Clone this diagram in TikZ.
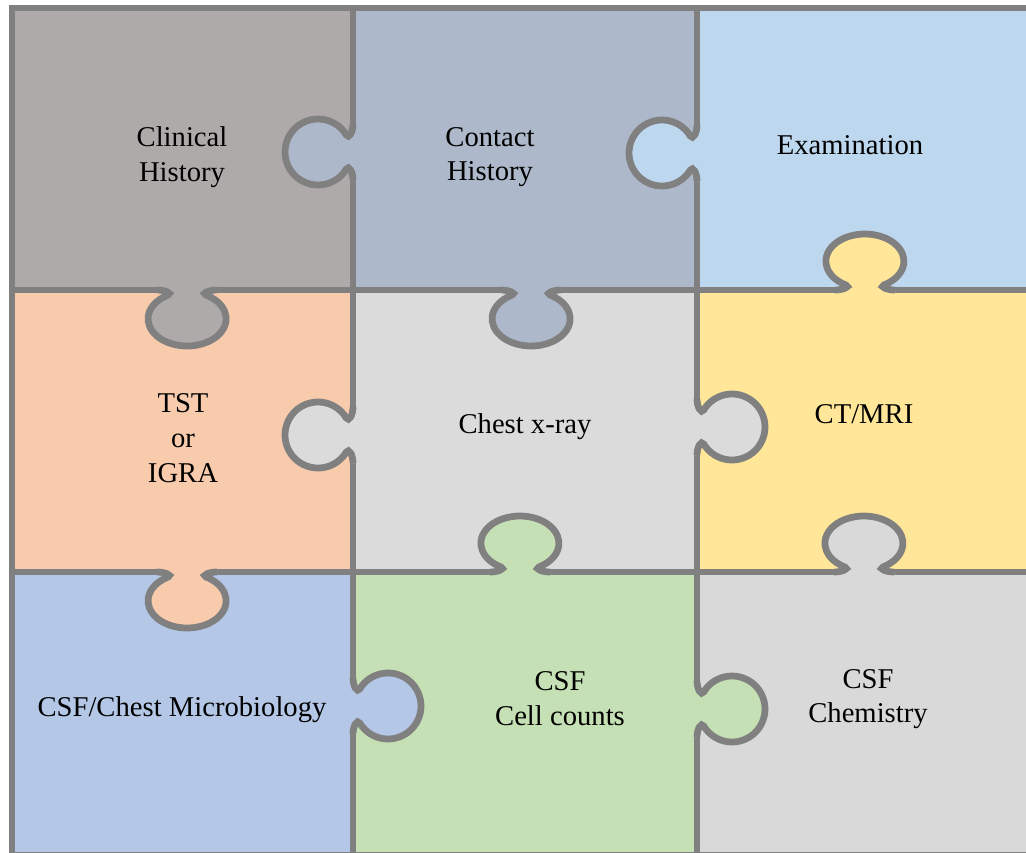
\documentclass[tikz,border=0pt]{standalone}
\usepackage{fontspec}
\setmainfont{Liberation Serif}

\definecolor{rim}{HTML}{808080}
\definecolor{clinicalfill}{HTML}{AEAAAA}
\definecolor{contactfill}{HTML}{ADB9CA}
\definecolor{examfill}{HTML}{BDD7EE}
\definecolor{tstfill}{HTML}{F8CBAD}
\definecolor{chestfill}{HTML}{DBDBDB}
\definecolor{ctfill}{HTML}{FFE699}
\definecolor{microfill}{HTML}{B4C7E7}
\definecolor{cellsfill}{HTML}{C5E0B4}
\definecolor{chemfill}{HTML}{D9D9D9}

\tikzset{
  piece/.style={draw=rim, line width=1.35mm},
  rimline/.style={draw=rim, line width=1.35mm, line cap=butt},
  piecetext/.style={align=center, font=\fontsize{16.3}{19.8}\selectfont}
}

% round knob on a side edge: position, direction, colour
\newcommand{\sideknob}[3]{%
  \begin{scope}[shift={#1}, rotate=#2]
    \fill[#3] (-4,-28) -- (0,-28) .. controls (0,-20) and (4.1,-12.7) .. (6.7,-17)
      arc[start angle=-149, end angle=149, radius=33]
      .. controls (4.1,12.7) and (0,20) .. (0,28) -- (-4,28) -- cycle;
    \draw[rimline] (0,-28) .. controls (0,-20) and (4.1,-12.7) .. (6.7,-17)
      arc[start angle=-149, end angle=149, radius=33]
      .. controls (4.1,12.7) and (0,20) .. (0,28);
  \end{scope}}

% flatter knob on a top or bottom edge
\newcommand{\wideknob}[3]{%
  \begin{scope}[shift={#1}, rotate=#2]
    \fill[#3] (-4,-30) -- (0,-30) .. controls (0,-22) and (3.2,-14.3) .. (5,-19)
      arc[start angle=-151, end angle=151, x radius=27.2, y radius=39]
      .. controls (3.2,14.3) and (0,22) .. (0,30) -- (-4,30) -- cycle;
    \draw[rimline] (0,-30) .. controls (0,-22) and (3.2,-14.3) .. (5,-19)
      arc[start angle=-151, end angle=151, x radius=27.2, y radius=39]
      .. controls (3.2,14.3) and (0,22) .. (0,30);
  \end{scope}}

\begin{document}
\begin{tikzpicture}[x=0.2mm,y=-0.2mm]
\clip (0,0) rectangle (1026,852);
\fill[white] (0,0) rectangle (1026,852);

% the nine pieces
\draw[piece, fill=clinicalfill] (12,8) rectangle (353,290);
\draw[piece, fill=contactfill] (353,8) rectangle (697,290);
\draw[piece, fill=examfill] (697,8) rectangle (1040,290);
\draw[piece, fill=tstfill] (12,290) rectangle (353,572);
\draw[piece, fill=chestfill] (353,290) rectangle (697,572);
\draw[piece, fill=ctfill] (697,290) rectangle (1040,572);
\draw[piece, fill=microfill] (12,572) rectangle (353,855);
\draw[piece, fill=cellsfill] (353,572) rectangle (697,855);
\draw[piece, fill=chemfill] (697,572) rectangle (1040,855);

% knobs
\sideknob{(353,152)}{180}{contactfill}
\sideknob{(697,153)}{180}{examfill}
\wideknob{(187,290)}{-90}{clinicalfill}
\wideknob{(531,290)}{-90}{contactfill}
\wideknob{(865,290)}{90}{ctfill}
\sideknob{(353,435)}{180}{chestfill}
\sideknob{(697,427)}{0}{chestfill}
\wideknob{(187,572)}{-90}{tstfill}
\wideknob{(520,572)}{90}{cellsfill}
\wideknob{(864,572)}{90}{chemfill}
\sideknob{(353,706)}{0}{microfill}
\sideknob{(697,709)}{0}{cellsfill}

\node[piecetext] (clinical) at (182,157) {Clinical\\History};
\node[piecetext] (contact) at (490,157) {Contact\\History};
\node[piecetext] (exam) at (850,145) {Examination};
\node[piecetext] (tst) at (183,438) {TST\\or\\IGRA};
\node[piecetext] (chest) at (525,427) {Chest x-ray};
\node[piecetext] (ctmri) at (864,414) {CT/MRI};
\node[piecetext] (micro) at (182,710) {CSF/Chest Microbiology};
\node[piecetext] (cells) at (560,699) {CSF\\Cell counts};
\node[piecetext] (chem) at (868,699) {CSF\\Chemistry};
\end{tikzpicture}
\end{document}
